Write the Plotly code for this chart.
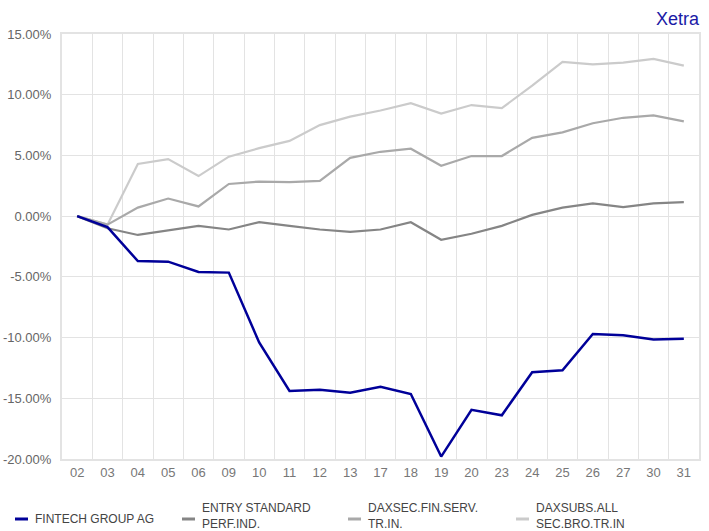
import plotly.graph_objects as go

days = ["02","03","04","05","06","09","10","11","12","13","17","18","19","20","23","24","25","26","27","30","31"]
fintech = [0, -0.9, -3.7, -3.75, -4.6, -4.65, -10.4, -14.4, -14.3, -14.55, -14.05, -14.65, -19.8, -15.95, -16.4, -12.85, -12.7, -9.7, -9.8, -10.15, -10.1]
entry = [0, -1.0, -1.55, -1.15, -0.8, -1.1, -0.5, -0.8, -1.1, -1.3, -1.1, -0.5, -1.95, -1.45, -0.8, 0.1, 0.7, 1.05, 0.75, 1.05, 1.15]
daxsec = [0, -0.7, 0.7, 1.45, 0.8, 2.65, 2.85, 2.8, 2.9, 4.8, 5.3, 5.55, 4.15, 4.95, 4.95, 6.45, 6.9, 7.65, 8.1, 8.3, 7.8]
daxsubs = [0, -0.7, 4.3, 4.7, 3.3, 4.9, 5.6, 6.2, 7.5, 8.2, 8.7, 9.3, 8.45, 9.15, 8.9, 10.75, 12.7, 12.5, 12.65, 12.95, 12.4]
y_tickvals = [-20, -15, -10, -5, 0, 5, 10, 15]
y_ticktext = ["-20.00%", "-15.00%", "-10.00%", "-5.00%", "0.00%", "5.00%", "10.00%", "15.00%"]

names = ["FINTECH GROUP AG", "ENTRY STANDARD<br>PERF.IND.", "DAXSEC.FIN.SERV.<br>TR.IN.", "DAXSUBS.ALL<br>SEC.BRO.TR.IN"]
colors = ["#000099", "#858585", "#a9a9a9", "#cbcbcb"]
widths = [2.5, 2.2, 2.2, 2.2]
series = [fintech, entry, daxsec, daxsubs]

W, H = 709, 531
L, R, T, B = 62, 10, 34, 72
pw, ph = W - L - R, H - T - B

def px(x):
    return (x - L) / pw

def py(y):
    return (H - B - y) / ph

fig = go.Figure()
for i in [3, 2, 1, 0]:
    fig.add_trace(go.Scatter(x=days, y=series[i], mode="lines", name=names[i],
                             line=dict(color=colors[i], width=widths[i]),
                             showlegend=False))

legend_x = [15, 182, 348, 516]
shapes = []
annotations = []
for i in range(4):
    shapes.append(dict(type="line", xref="paper", yref="paper",
                       x0=px(legend_x[i]), x1=px(legend_x[i] + 13),
                       y0=py(519), y1=py(519),
                       line=dict(color=colors[i], width=3)))
    text_y = 519 if i == 0 else 516
    annotations.append(dict(text=names[i], xref="paper", yref="paper",
                            x=px(legend_x[i] + 19), xanchor="left",
                            y=py(text_y), yanchor="middle", align="left",
                            showarrow=False, borderpad=0,
                            font=dict(size=12, color="#444444")))
annotations.append(dict(text="Xetra", x=1.0, xref="paper", xanchor="right", xshift=3,
                        y=1.0, yref="paper", yanchor="bottom", yshift=3,
                        showarrow=False, font=dict(size=18, color="#1a1aa6")))

fig.update_layout(
    width=W, height=H,
    margin=dict(l=L, r=R, t=T, b=B),
    paper_bgcolor="white", plot_bgcolor="white",
    font=dict(family="Liberation Sans, Arial, sans-serif", size=13, color="#666666"),
    showlegend=False,
    shapes=shapes,
    annotations=annotations,
)
fig.update_xaxes(type="category", range=[-0.5, len(days) - 0.5], tickson="boundaries",
                 showgrid=True, gridcolor="#e3e3e3", gridwidth=1, showline=True,
                 linecolor="#e3e3e3", linewidth=2, mirror=True, automargin=False,
                 ticks="", tickfont=dict(size=13, color="#777777"), zeroline=False)
fig.update_yaxes(range=[-20, 15], tickvals=y_tickvals, ticktext=y_ticktext,
                 showgrid=True, gridcolor="#e3e3e3", gridwidth=1, showline=True,
                 linecolor="#e3e3e3", linewidth=2, mirror=True, zeroline=False,
                 automargin=False, ticks="", ticklabelstandoff=6,
                 tickfont=dict(size=13, color="#666666"))

fig.write_html("out.html", config={"displayModeBar": False},
               post_script="document.body.style.margin='0';document.body.style.padding='0';")
